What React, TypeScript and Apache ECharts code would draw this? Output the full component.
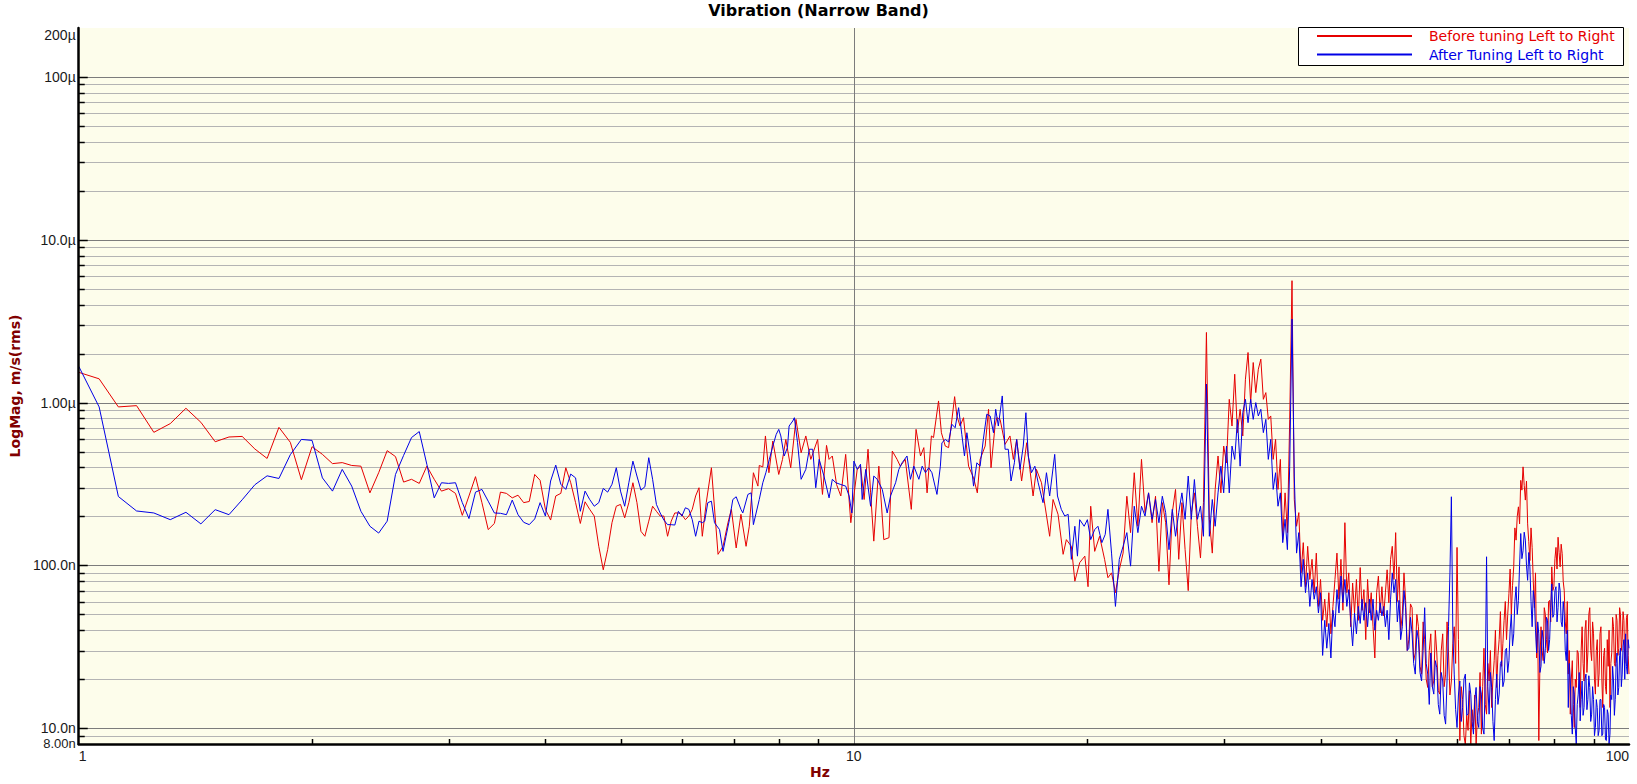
import React, { useEffect, useRef } from "react";
import * as echarts from "echarts";

// ---- data (magnitudes in nano m/s rms) ----
// 1 Hz .. 6.375 Hz, FFT resolution 0.0625 Hz
const LOW_START_HZ = 1;
const LOW_STEP_HZ = 0.0625;
const RED_LOW = [
  1535, 1400, 941, 958, 657, 743, 923, 757, 575, 615, 620, 519, 454, 705, 570, 336,
  536, 481, 422, 428, 411, 407, 279, 371, 507, 466, 325, 338, 319, 407, 338, 286,
  296, 277, 203, 267, 351, 243, 166, 181, 282, 277, 260, 270, 243, 247, 362, 333,
  221, 190, 267, 277, 398, 322, 243, 181, 246, 221, 201, 131, 94, 125, 183, 231,
  237, 196, 243, 322, 243, 162, 151, 187, 231, 215, 201, 201, 151, 187, 210, 210,
  205, 191, 201, 221, 267, 300, 151,
];
const BLUE_LOW = [
  1671, 941, 265, 216, 210, 191, 212, 180, 220, 205, 253, 313, 355, 342, 479, 594,
  586, 345, 286, 389, 307, 215, 174, 158, 187, 362, 474, 610, 664, 418, 260, 322,
  319, 322, 243, 194, 282, 293, 248, 210, 209, 205, 252, 205, 184, 178, 193, 243,
  201, 330, 413, 315, 293, 364, 345, 215, 286, 254, 231, 243, 297, 282, 315, 398,
  286, 231, 322, 437, 354, 290, 304, 459, 338, 237, 210, 190, 178, 178, 177, 215,
  201, 226, 221, 191, 151, 187, 183,
];

// 6.4 Hz .. 21.3 Hz, [Hz, value]
const RED_MID = [
  [6.45, 243], [6.55, 398], [6.68, 117], [6.78, 131], [6.88, 183], [6.95, 221], [7.05, 128],
  [7.15, 206], [7.26, 131], [7.33, 174], [7.42, 371], [7.52, 307], [7.55, 411], [7.63, 403],
  [7.69, 624], [7.77, 371], [7.86, 581], [8.0, 362], [8.09, 448], [8.17, 594], [8.29, 398],
  [8.42, 789], [8.55, 492], [8.67, 624], [8.8, 448], [8.98, 594], [9.11, 273], [9.22, 546],
  [9.29, 448], [9.38, 470], [9.5, 314], [9.62, 267], [9.76, 481], [9.91, 183], [10.0, 267],
  [10.1, 389], [10.2, 407], [10.31, 254], [10.43, 517], [10.51, 279], [10.61, 141], [10.77, 407],
  [10.93, 144], [11.1, 148], [11.21, 504], [11.37, 448], [11.48, 407], [11.65, 448], [11.86, 221],
  [12.03, 685], [12.19, 470], [12.31, 529], [12.43, 279], [12.59, 624], [12.67, 610], [12.86, 1024],
  [12.97, 653], [13.12, 541], [13.25, 529], [13.49, 1088], [13.58, 828], [13.71, 718], [13.85, 808],
  [14.06, 407], [14.27, 345], [14.43, 279], [14.55, 448], [14.77, 541], [14.92, 910], [15.03, 398],
  [15.21, 718], [15.29, 808], [15.44, 789], [15.67, 554], [15.9, 624], [16.06, 448], [16.22, 594],
  [16.46, 330], [16.71, 567], [16.87, 389], [17.03, 267], [17.2, 389], [17.46, 322], [17.89, 151],
  [18.07, 254], [18.34, 206], [18.62, 117], [18.8, 144], [19.08, 131], [19.28, 80], [19.56, 104],
  [19.86, 114], [20.05, 74], [20.21, 231], [20.45, 122], [20.75, 151], [21.06, 109], [21.27, 84],
];
const BLUE_MID = [
  [6.42, 187], [6.48, 243], [6.55, 248], [6.61, 183], [6.71, 166], [6.78, 122], [6.84, 151],
  [6.91, 191], [6.98, 254], [7.05, 264], [7.15, 221], [7.19, 210], [7.3, 273], [7.37, 279],
  [7.42, 178], [7.55, 254], [7.63, 322], [7.7, 371], [7.78, 448], [7.86, 541], [7.94, 638],
  [8.0, 685], [8.05, 624], [8.13, 470], [8.21, 529], [8.25, 718], [8.34, 771], [8.38, 808],
  [8.46, 567], [8.55, 338], [8.67, 389], [8.76, 517], [8.85, 517], [8.93, 300], [9.02, 448],
  [9.15, 354], [9.29, 260], [9.38, 338], [9.48, 322], [9.62, 314], [9.76, 307], [9.86, 267],
  [9.94, 210], [10.0, 437], [10.1, 389], [10.2, 418], [10.25, 254], [10.36, 389], [10.51, 231],
  [10.61, 354], [10.72, 338], [10.88, 293], [11.04, 210], [11.15, 267], [11.32, 322], [11.43, 389],
  [11.54, 427], [11.71, 470], [11.83, 338], [11.95, 407], [12.13, 338], [12.25, 407], [12.37, 371],
  [12.49, 398], [12.61, 371], [12.8, 273], [12.93, 407], [12.99, 567], [13.12, 594], [13.25, 573],
  [13.38, 736], [13.51, 701], [13.65, 931], [13.78, 638], [13.89, 470], [13.99, 653], [14.13, 470],
  [14.27, 307], [14.41, 427], [14.55, 407], [14.69, 594], [14.84, 848], [14.99, 828], [15.14, 653],
  [15.24, 910], [15.36, 718], [15.54, 1099], [15.67, 517], [15.82, 517], [15.95, 330], [16.11, 427],
  [16.22, 594], [16.38, 389], [16.54, 541], [16.67, 867], [16.79, 470], [16.95, 371], [17.12, 407],
  [17.29, 322], [17.54, 243], [17.72, 371], [17.89, 267], [18.16, 481], [18.31, 267], [18.52, 221],
  [18.71, 201], [18.9, 206], [19.08, 109], [19.28, 174], [19.43, 114], [19.56, 191], [19.82, 174],
  [20.01, 191], [20.21, 144], [20.45, 166], [20.65, 174], [20.89, 138], [21.1, 155], [21.27, 221],
];

// 21.5 Hz .. 50 Hz, every 0.25 Hz
const HIGH_START_HZ = 21.5;
const HIGH_STEP_HZ = 0.25;
const RED_HIGH = [
  90, 68, 94, 119, 266, 159, 371, 174, 448, 211,
  279, 183, 266, 92, 243, 183, 76, 211, 293, 109,
  243, 125, 70, 211, 279, 174, 111, 243, 2698, 192,
  119, 293, 470, 279, 541, 427, 1048, 718, 1494, 654,
  910, 624, 1392, 2032, 1000, 1763, 1152, 1604, 1849, 1048,
  1152, 789, 828, 448, 595, 293, 448, 144, 279, 159,
  789, 5610, 254, 174, 211, 90, 138, 74, 131, 82,
  109, 68, 119, 56, 82, 46, 62, 42, 68, 38,
  56, 82, 119, 62, 109, 53, 183, 68, 90, 42,
  78, 51, 82, 46, 97, 53, 71, 35, 82, 51,
  68, 42, 27, 68, 86, 51, 74, 49, 68, 94,
  59, 109, 131, 82, 159,
];
const BLUE_HIGH = [
  119, 56, 109, 131, 159, 99, 231, 159, 231, 201,
  279, 192, 254, 183, 266, 211, 125, 221, 151, 211,
  279, 192, 354, 192, 337, 192, 231, 151, 1300, 151,
  254, 174, 279, 407, 279, 541, 279, 541, 448, 789,
  407, 868, 1048, 753, 1048, 789, 1000, 828, 910, 654,
  789, 448, 595, 293, 371, 231, 279, 138, 192, 125,
  407, 3260, 354, 119, 159, 74, 109, 68, 90, 56,
  82, 62, 74, 51, 68, 28, 46, 31, 44, 27,
  53, 42, 71, 51, 86, 59, 82, 56, 71, 46,
  32, 51, 38, 56, 44, 62, 46, 59, 42, 62,
  46, 62, 40, 53, 46, 59, 49, 56, 42, 53,
  35, 62, 90, 68, 82,
];

// 50.25 Hz .. 100 Hz, every 0.25 Hz (one row per Hz)
const TOP_START_HZ = 50.25;
const TOP_STEP_HZ = 0.25;
const RED_TOP = [
  60, 98, 40, 50,
  90, 61, 30, 35,
  58, 55, 26, 29,
  50, 42, 24, 21.5,
  45, 35, 20, 17.8,
  30, 38, 18, 19.5,
  40, 29, 17, 16.2,
  30, 38, 18, 21.5,
  45, 29, 16, 19.5,
  33, 42, 25, 129,
  35, 8.4, 18, 15,
  9, 7.9, 12, 9.7,
  17, 7.9, 13, 10.1,
  16, 7.9, 12, 13.4,
  22, 9.2, 18, 31,
  14, 12.2, 25, 19.5,
  30, 13.4, 20, 26,
  40, 17.8, 28, 35,
  52, 24, 33, 46,
  60, 35, 50, 67,
  95, 50, 75, 98,
  170, 143, 200, 229,
  180, 333, 290, 403,
  310, 252, 330, 180,
  140, 107, 170, 129,
  80, 55, 90, 27,
  40, 8.4, 25, 42,
  30, 26, 55, 50,
  35, 29, 60, 61,
  45, 98, 70, 74,
  110, 129, 95, 149,
  120, 98, 135, 118,
  80, 70, 45, 38,
  60, 21.5, 30, 12.2,
  20, 26, 14, 10.1,
  20, 17.8, 30, 29,
  18, 13.4, 30, 42,
  25, 19.5, 40, 46,
  22, 29, 50, 55,
  30, 26, 45, 38,
  20, 16.2, 30, 35,
  18, 21.5, 38, 42,
  20, 13.4, 28, 31,
  18, 16.2, 35, 24,
  40, 13.4, 25, 29,
  48, 42, 25, 24,
  50, 46, 28, 31,
  55, 50, 30, 35,
  52, 46, 25, 29,
  48, 50, 28, 21.5,
];
const BLUE_TOP = [
  45, 61, 35, 42,
  70, 55, 30, 31,
  48, 38, 25, 21.5,
  40, 35, 22, 19.5,
  30, 55, 25, 21.5,
  14, 29, 18, 16.2,
  26, 23.5, 14, 12.2,
  22, 19.5, 12, 10.6,
  20, 42, 90, 264,
  40, 21.5, 13, 10.1,
  16, 19.5, 11, 13.4,
  20, 21.5, 12, 12.2,
  19, 16.2, 11, 9.2,
  15, 17.8, 11, 10.1,
  18, 16.2, 10, 9.2,
  20, 113, 18, 12.2,
  22, 17.8, 11, 8.4,
  15, 21.5, 14, 16.2,
  25, 26, 18, 19.5,
  30, 31, 22, 26,
  40, 50, 32, 38,
  60, 74, 50, 61,
  100, 157, 110, 123,
  160, 143, 100, 81,
  120, 98, 60, 42,
  70, 61, 40, 29,
  45, 38, 22, 24,
  40, 35, 25, 31,
  48, 46, 30, 35,
  55, 77, 48, 50,
  70, 74, 45, 55,
  78, 70, 45, 42,
  60, 50, 30, 26,
  40, 13.4, 25, 19.5,
  12, 9.2, 18, 16.2,
  10, 8.0, 14, 16.2,
  22, 11.1, 15, 19.5,
  12, 13.4, 20, 21.5,
  13, 15, 21, 17.8,
  11, 12.2, 18, 15,
  9, 10.1, 15, 13.4,
  9, 9.7, 15, 15,
  9, 9.2, 14, 13.4,
  8.5, 8.4, 13, 12.2,
  8, 9.2, 16, 15,
  24, 19.5, 12, 15,
  25, 29, 16, 17.8,
  28, 31, 18, 21.5,
  32, 35, 20, 38,
  24, 21.5, 35, 31,
];

// ---- axes ----
const X_MIN = 1;
const X_MAX = 100;
const Y_MIN = 8;
const Y_MAX = 200000;
const Y_MAJOR = [10, 100, 1000, 10000, 100000];
const Y_MINOR = [
  9, 20, 30, 40, 50, 60, 70, 80, 90, 200, 300, 400, 500, 600, 700, 800, 900,
  2000, 3000, 4000, 5000, 6000, 7000, 8000, 9000,
  20000, 30000, 40000, 50000, 60000, 70000, 80000, 90000,
];
const X_MAJOR_GRID = [10];
const X_MINOR = [2, 3, 4, 5, 6, 7, 8, 9, 20, 30, 40, 50, 60, 70, 80, 90];
const Y_LABELS: Record<string, string> = {
  "8": "8.00n",
  "10": "10.0n",
  "100": "100.0n",
  "1000": "1.00µ",
  "10000": "10.0µ",
  "100000": "100µ",
  "200000": "200µ",
};

const TITLE = "Vibration (Narrow Band)";
const RED_NAME = "Before tuning Left to Right";
const BLUE_NAME = "After Tuning Left to Right";
const RED = "#e60000";
const BLUE = "#0000e6";

function build(start: number, step: number, vals: number[]) {
  return vals.map((v, i) => [start + i * step, v]);
}

export default function App() {
  const ref = useRef<HTMLDivElement>(null);
  useEffect(() => {
    if (!ref.current) return;
    const chart = echarts.init(ref.current, undefined, { renderer: "svg" });
    const redData = [
      ...build(LOW_START_HZ, LOW_STEP_HZ, RED_LOW),
      ...RED_MID,
      ...build(HIGH_START_HZ, HIGH_STEP_HZ, RED_HIGH),
      ...build(TOP_START_HZ, TOP_STEP_HZ, RED_TOP),
    ];
    const blueData = [
      ...build(LOW_START_HZ, LOW_STEP_HZ, BLUE_LOW),
      ...BLUE_MID,
      ...build(HIGH_START_HZ, HIGH_STEP_HZ, BLUE_HIGH),
      ...build(TOP_START_HZ, TOP_STEP_HZ, BLUE_TOP),
    ];
    const labelFont = "'Liberation Sans', Arial, sans-serif";
    const boldFont = "'DejaVu Sans', sans-serif";
    chart.setOption({
      animation: false,
      backgroundColor: "#ffffff",
      title: {
        text: TITLE,
        left: "center",
        top: 2,
        padding: 0,
        textStyle: { fontFamily: boldFont, fontSize: 16, fontWeight: "bold", color: "#000" },
      },
      grid: {
        left: 73,
        right: 8,
        top: 28,
        bottom: 40,
        show: true,
        backgroundColor: "#fdfdeb",
        borderWidth: 0,
      },
      xAxis: {
        type: "log",
        logBase: 10,
        min: X_MIN,
        max: X_MAX,
        z: 5,
        axisLine: { show: true, lineStyle: { color: "#000", width: 2.5 } },
        axisTick: { show: false },
        splitLine: { show: false },
        minorTick: { show: false },
        axisLabel: {
          margin: 5,
          fontSize: 14,
          fontFamily: labelFont,
          color: "#1a1a1a",
          showMinLabel: true,
          showMaxLabel: true,
          hideOverlap: false,
          alignMinLabel: "left",
          alignMaxLabel: "right",
          formatter: (v: number) => String(Math.round(v)),
        },
      },
      yAxis: {
        type: "log",
        logBase: 10,
        min: Y_MIN,
        max: Y_MAX,
        z: 5,
        axisLine: { show: true, lineStyle: { color: "#000", width: 2.5 } },
        axisTick: { show: false },
        splitLine: { show: false },
        minorTick: { show: false },
        axisLabel: {
          margin: 3,
          fontSize: 14,
          fontFamily: labelFont,
          color: "#1a1a1a",
          showMinLabel: false,
          showMaxLabel: true,
          hideOverlap: false,
          verticalAlignMaxLabel: "top",
          formatter: (v: number) => Y_LABELS[String(Math.round(v))] ?? "",
        },
        name: "LogMag, m/s(rms)",
        nameLocation: "middle",
        nameGap: 51,
        nameTextStyle: { fontFamily: boldFont, fontSize: 14, fontWeight: "bold", color: "#800000" },
      },
      graphic: [
        {
          type: "text",
          x: 820,
          y: 772,
          z: 20,
          style: {
            text: "Hz",
            fill: "#800000",
            fontFamily: boldFont,
            fontSize: 14,
            fontWeight: "bold",
            align: "center",
            verticalAlign: "middle",
          },
        },
        {
          type: "rect",
          z: 20,
          shape: { x: 1298.5, y: 27.5, width: 325, height: 38 },
          style: { fill: "#ffffff", stroke: "#000", lineWidth: 1 },
        },
        {
          type: "line",
          z: 21,
          shape: { x1: 1317, y1: 36, x2: 1412, y2: 36 },
          style: { stroke: RED, lineWidth: 2 },
        },
        {
          type: "line",
          z: 21,
          shape: { x1: 1317, y1: 54.5, x2: 1412, y2: 54.5 },
          style: { stroke: BLUE, lineWidth: 2 },
        },
        {
          type: "text",
          x: 1429,
          y: 36,
          z: 21,
          style: {
            text: RED_NAME,
            fill: RED,
            fontFamily: "'DejaVu Sans', sans-serif",
            fontSize: 14,
            align: "left",
            verticalAlign: "middle",
          },
        },
        {
          type: "text",
          x: 1429,
          y: 54.5,
          z: 21,
          style: {
            text: BLUE_NAME,
            fill: BLUE,
            fontFamily: "'DejaVu Sans', sans-serif",
            fontSize: 14,
            align: "left",
            verticalAlign: "middle",
          },
        },
      ],
      series: [
        {
          type: "custom",
          name: "hgrid",
          silent: true,
          z: 1,
          clip: false,
          encode: { x: 0, y: 1 },
          data: [...Y_MAJOR.map((v) => [X_MIN, v, 1]), ...Y_MINOR.map((v) => [X_MIN, v, 0])],
          renderItem: (_p: any, api: any) => {
            const v = api.value(1);
            const major = api.value(2) === 1;
            const a = api.coord([X_MIN, v]);
            const b = api.coord([X_MAX, v]);
            const y = Math.round(a[1]) + 0.5;
            return {
              type: "group",
              children: [
                {
                  type: "line",
                  shape: { x1: a[0], y1: y, x2: b[0], y2: y },
                  style: { stroke: major ? "#7c7c7c" : "#b4b4b4", lineWidth: 1 },
                },
                {
                  type: "line",
                  shape: { x1: a[0], y1: y, x2: a[0] + (major ? 9 : 6), y2: y },
                  style: { stroke: "#000", lineWidth: 1.5 },
                },
              ],
            };
          },
        },
        {
          type: "custom",
          name: "vgrid",
          silent: true,
          z: 1,
          clip: false,
          encode: { x: 0, y: 1 },
          data: [...X_MAJOR_GRID.map((v) => [v, Y_MIN, 1]), ...X_MINOR.map((v) => [v, Y_MIN, 0])],
          renderItem: (_p: any, api: any) => {
            const f = api.value(0);
            const major = api.value(2) === 1;
            const a = api.coord([f, Y_MIN]);
            const b = api.coord([f, Y_MAX]);
            const x = Math.round(a[0]) + 0.5;
            if (major) {
              return {
                type: "line",
                shape: { x1: x, y1: a[1], x2: x, y2: b[1] },
                style: { stroke: "#7c7c7c", lineWidth: 1 },
              };
            }
            return {
              type: "line",
              shape: { x1: x, y1: a[1], x2: x, y2: a[1] - 5 },
              style: { stroke: "#000", lineWidth: 1.5 },
            };
          },
        },
        {
          type: "custom",
          name: "minLabel",
          silent: true,
          z: 6,
          clip: false,
          encode: { x: 0, y: 1 },
          data: [[X_MIN, Y_MIN]],
          renderItem: (_p: any, api: any) => {
            const v = api.value(1);
            const a = api.coord([X_MIN, v]);
            return {
              type: "text",
              x: a[0] - 3,
              y: a[1] - 7.5,
              style: {
                text: Y_LABELS[String(Math.round(v))],
                fill: "#1a1a1a",
                fontFamily: labelFont,
                fontSize: 13,
                align: "right",
                verticalAlign: "top",
              },
            };
          },
        },
        {
          type: "line",
          name: RED_NAME,
          data: redData,
          symbol: "none",
          z: 3,
          lineStyle: { color: RED, width: 1 },
          itemStyle: { color: RED },
        },
        {
          type: "line",
          name: BLUE_NAME,
          data: blueData,
          symbol: "none",
          z: 4,
          lineStyle: { color: BLUE, width: 1 },
          itemStyle: { color: BLUE },
        },
      ],
    });
    return () => chart.dispose();
  }, []);
  return (
    <div
      ref={ref}
      style={{ position: "absolute", left: 0, top: 0, width: 1637, height: 784 }}
    />
  );
}
